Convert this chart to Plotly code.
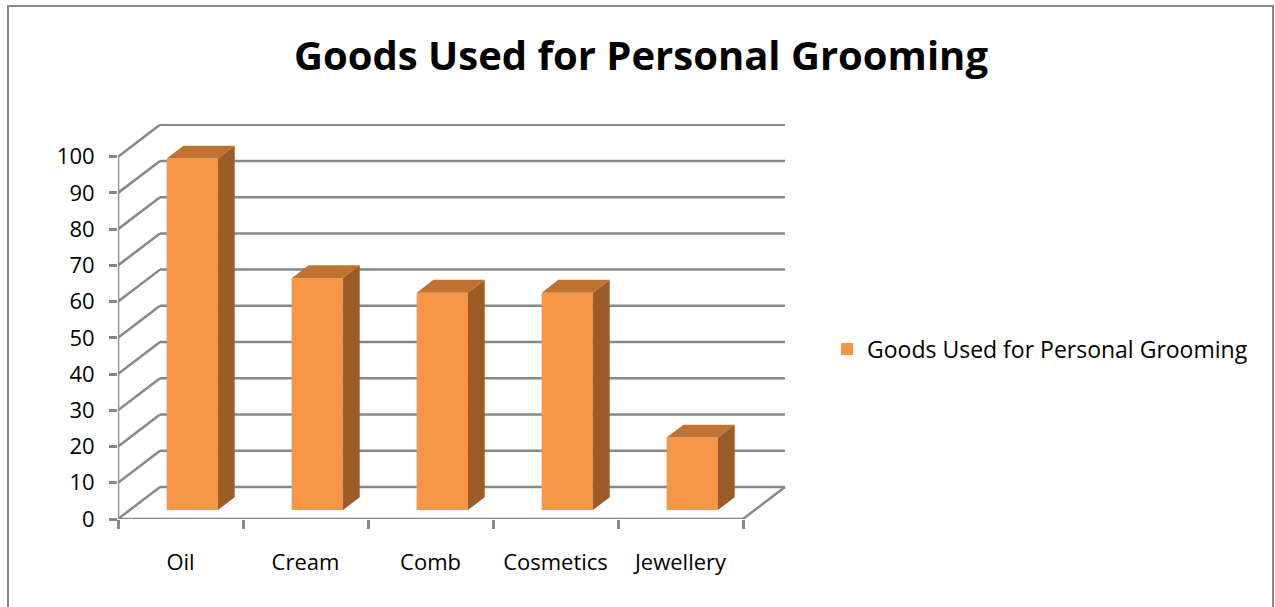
import plotly.graph_objects as go

# ---- data ----
categories = ["Oil", "Cream", "Comb", "Cosmetics", "Jewellery"]
values = [97, 64, 60, 60, 20]
y_ticks = [0, 10, 20, 30, 40, 50, 60, 70, 80, 90, 100]
series_name = "Goods Used for Personal Grooming"

# ---- styling / geometry (in axis units) ----
W, H = 1275, 607
PL, PR, PT, PB = 118, 786, 124, 519          # plot area pixels
X0 = -0.5
XPX = 125.0                                   # px per category
YPX = 3.623                                   # px per value unit
XMAX = X0 + (PR - PL) / XPX
YMAX = (PB - PT) / YPX
DX = 42 / XPX                                 # depth offset (x)
DY = 32 / YPX                                 # depth offset (y)
F0, F1 = 0.28, 0.68                           # bar depth range (fraction)
BW = 0.41                                     # bar width

FRONT = "#F79646"
TOP = "#C07331"
SIDE = "#9C5B27"
GRID = "#878787"
FONT = "Open Sans"

fig = go.Figure()

# bar front faces (library bars)
xs = [i + F0 * DX for i in range(len(categories))]
fig.add_trace(go.Bar(
    x=xs, y=values, base=F0 * DY, width=BW, name=series_name,
    marker=dict(color=FRONT, line=dict(width=0)), showlegend=True,
))

# 3D top and side faces derived from values
for i, v in enumerate(values):
    xl = i + F0 * DX - BW / 2
    xr = i + F0 * DX + BW / 2
    ddx = (F1 - F0) * DX
    ddy = (F1 - F0) * DY
    yt = v + F0 * DY
    fig.add_trace(go.Scatter(
        x=[xl, xr, xr + ddx, xl + ddx, xl], y=[yt, yt, yt + ddy, yt + ddy, yt],
        fill="toself", fillcolor=TOP, mode="lines", line=dict(width=0, color=TOP),
        showlegend=False, hoverinfo="skip"))
    fig.add_trace(go.Scatter(
        x=[xr, xr + ddx, xr + ddx, xr, xr],
        y=[F0 * DY, F0 * DY + ddy, yt + ddy, yt, F0 * DY],
        fill="toself", fillcolor=SIDE, mode="lines", line=dict(width=0, color=SIDE),
        showlegend=False, hoverinfo="skip"))

shapes = []
ncat = len(categories)
xe = X0 + ncat
# back wall gridlines and side wall diagonals
for t in y_ticks:
    shapes.append(dict(type="line", xref="x", yref="y", layer="below",
                       x0=X0 + DX, x1=xe + DX, y0=t + DY, y1=t + DY,
                       line=dict(color=GRID, width=2.5)))
    shapes.append(dict(type="line", xref="x", yref="y", layer="below",
                       x0=X0, x1=X0 + DX, y0=t, y1=t + DY,
                       line=dict(color=GRID, width=2.5)))
# front vertical axis
shapes.append(dict(type="line", xref="x", yref="y", layer="below",
                   x0=X0, x1=X0, y0=0, y1=y_ticks[-1], line=dict(color=GRID, width=2.5)))
# floor front edge and right edge
shapes.append(dict(type="line", xref="x", yref="y", layer="below",
                   x0=X0, x1=xe, y0=0, y1=0, line=dict(color=GRID, width=2.5)))
shapes.append(dict(type="line", xref="x", yref="y", layer="below",
                   x0=xe, x1=xe + DX, y0=0, y1=DY, line=dict(color=GRID, width=2.5)))


def px_x(p):
    return (p - PL) / (PR - PL)


def px_y(p):
    return (PB - p) / (PB - PT)


# chart border
shapes.append(dict(type="rect", xref="paper", yref="paper", layer="below",
                   x0=px_x(8), x1=px_x(1273), y0=px_y(640), y1=px_y(6),
                   line=dict(color="#898989", width=2), fillcolor="rgba(0,0,0,0)"))

fig.update_layout(
    width=W, height=H,
    margin=dict(l=PL, r=W - PR, t=PT, b=H - PB, pad=0),
    paper_bgcolor="white", plot_bgcolor="rgba(0,0,0,0)",
    shapes=shapes,
    barmode="overlay",
    font=dict(family=FONT, color="black", size=22),
    title=dict(text="<b>Goods Used for Personal Grooming</b>",
               font=dict(family=FONT, size=40, color="black"),
               xref="container", x=641 / W, xanchor="center",
               yref="container", y=1 - 56 / H, yanchor="middle"),
    xaxis=dict(range=[X0, XMAX], tickvals=list(range(ncat)), ticktext=categories,
               showgrid=False, zeroline=False, showline=False, ticks="",
               ticklabelstandoff=28, tickfont=dict(size=22, family=FONT)),
    xaxis2=dict(range=[X0, XMAX], overlaying="x", anchor="y", side="bottom",
                tickvals=[X0 + k for k in range(ncat + 1)], showticklabels=False,
                ticks="outside", ticklen=9, tickwidth=2.5, tickcolor=GRID,
                showgrid=False, zeroline=False, showline=False),
    yaxis=dict(range=[0, YMAX], tickvals=y_ticks, showgrid=False, zeroline=False,
               showline=False, ticks="outside", ticklen=8, tickwidth=2.5, tickcolor=GRID,
               ticklabelstandoff=10, tickfont=dict(size=22, family=FONT)),
    legend=dict(x=px_x(827), xanchor="left", y=px_y(349), yanchor="middle",
                font=dict(size=23, family=FONT), bgcolor="rgba(0,0,0,0)",
                itemwidth=30, traceorder="normal"),
    showlegend=True,
)
# dummy trace for xaxis2 to render ticks
fig.add_trace(go.Scatter(x=[X0], y=[0], xaxis="x2", mode="markers",
                         marker=dict(opacity=0), showlegend=False, hoverinfo="skip"))

fig.write_html("out.html", config={"displayModeBar": False},
               post_script="document.body.style.margin='0';")
